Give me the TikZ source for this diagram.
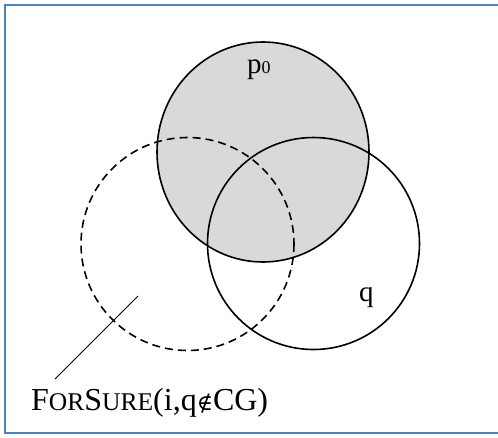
\documentclass[tikz,border=0pt]{standalone}
\usepackage{fontspec}
\setmainfont{Liberation Serif}
\newfontfamily\symbfont{DejaVu Serif}
\usetikzlibrary{positioning}
\definecolor{frameblue}{RGB}{79,129,189}
\definecolor{shadegray}{RGB}{217,217,217}
\newcommand{\fakesc}[1]{{\fontsize{25.5}{27}\selectfont #1}}
\begin{document}
\begin{tikzpicture}[x=1pt,y=-1pt,
    setline/.style={line width=1.6pt},
    setlabel/.style={inner sep=0pt, anchor=base west, font=\fontsize{29}{31}\selectfont}]
    \useasboundingbox (0,0) rectangle (498,437);
    \draw[frameblue, line width=2pt] (5,5) rectangle (503,433);
    % shaded set p0
    \fill[shadegray] (263,152) ellipse [x radius=106, y radius=110];
    \draw[setline] (263,152) ellipse [x radius=106, y radius=110];
    \draw[setline, dash pattern=on 8pt off 5pt] (187.5,244) circle (106.5);
    \draw[setline] (313.5,243.5) circle (106);
    \node[setlabel] (p0) at (247,73) {p{\fontsize{18}{19}\selectfont 0}};
    \node[setlabel] (q) at (359,301) {q};
    \node[setlabel, font=\fontsize{32}{34}\selectfont] (fslabel) at (31,410)
        {F\fakesc{OR}S\fakesc{URE}(i,q{\symbfont\fontsize{22}{24}\selectfont ∉}CG)};
    \coordinate (tip) at (138,296);
    \coordinate (tail) at (55,379);
    \draw[line width=0.8pt] (tail) -- (tip);
\end{tikzpicture}
\end{document}
